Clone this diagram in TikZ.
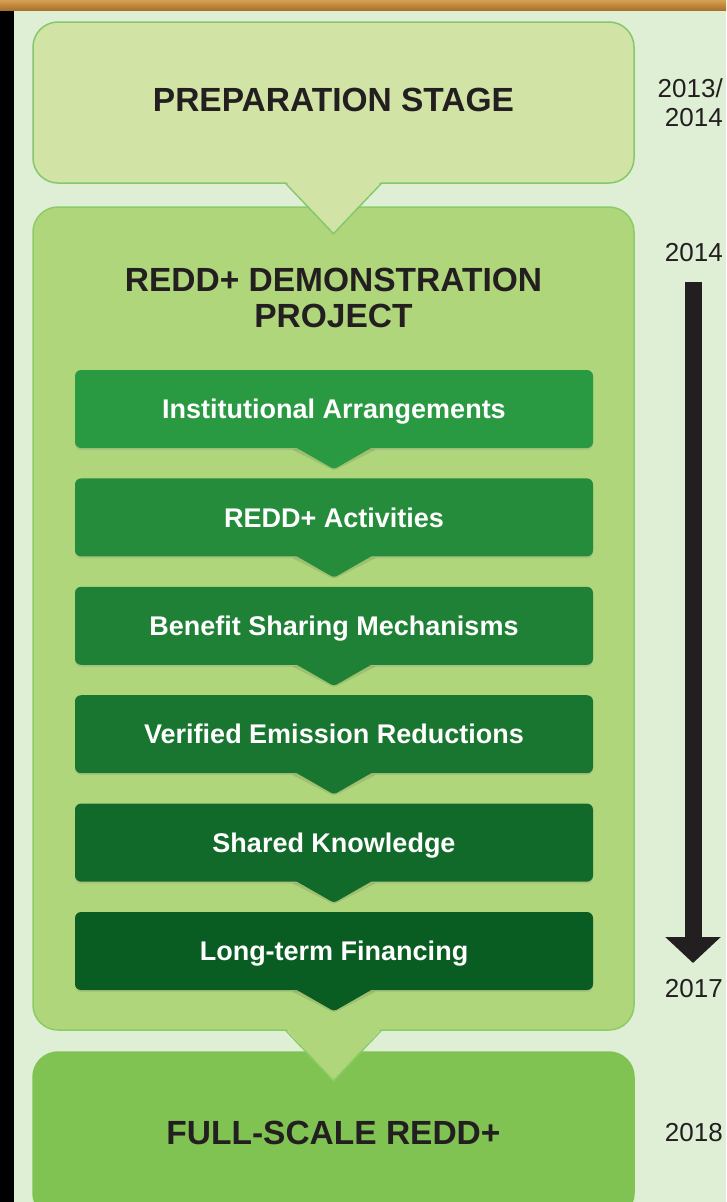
\documentclass[tikz,border=0pt]{standalone}
\usepackage{fontspec}
\setmainfont{Liberation Sans}
\usetikzlibrary{positioning}
\usetikzlibrary{arrows.meta}
\usetikzlibrary{shadows}

\definecolor{bgmint}{RGB}{223,239,214}
\definecolor{goldlight}{RGB}{214,160,82}
\definecolor{golddark}{RGB}{166,108,40}
\definecolor{prepfill}{RGB}{210,228,165}
\definecolor{prepline}{RGB}{132,199,108}
\definecolor{demofill}{RGB}{176,214,124}
\definecolor{demoline}{RGB}{140,204,100}
\definecolor{fullfill}{RGB}{128,195,82}
\definecolor{stepA}{RGB}{42,154,66}
\definecolor{stepB}{RGB}{36,140,58}
\definecolor{stepC}{RGB}{31,129,54}
\definecolor{stepD}{RGB}{25,118,48}
\definecolor{stepE}{RGB}{18,106,42}
\definecolor{stepF}{RGB}{10,93,34}
\definecolor{inkgray}{RGB}{35,31,32}

\tikzset{stagebox/.style = {rounded corners=25pt, line width=1.5pt,
                            minimum width=601pt, inner sep=0pt},
         stagetext/.style = {font=\bfseries\fontsize{33.5}{36}\selectfont,
                             text=inkgray, align=center, inner sep=0pt},
         stepbox/.style = {rounded corners=6pt, minimum width=518pt,
                           minimum height=78pt, inner sep=0pt,
                           text height=19.5pt, text depth=0pt, text=white,
                           font=\bfseries\fontsize{27}{30}\selectfont,
                           drop shadow={shadow xshift=0pt, shadow yshift=-2pt,
                                        opacity=0.2}},
         year/.style = {font=\fontsize{26}{29}\selectfont, text=inkgray,
                        align=right, anchor=east, inner sep=0pt}}

\begin{document}
\begin{tikzpicture}[x=1pt, y=-1pt]
      \useasboundingbox (0,0) rectangle (726,1202);
      \shade[top color=goldlight, bottom color=golddark] (0,0) rectangle (726,11);
      \fill[black] (0,11) rectangle (14,1202);
      \fill[bgmint] (14,11) rectangle (726,1202);

      % stages
      \node[stagebox, draw=prepline, fill=prepfill, minimum height=161pt] (prep) at (333.5,102.5) {};
      \node[stagebox, draw=demoline, fill=demofill, minimum height=823pt] (demo) at (333.5,618.5) {};
      \node[stagebox, draw=fullfill, fill=fullfill, minimum height=166pt] (full) at (333.5,1135) {};

      \node[stagetext] (prep title) at (333.5,100) {PREPARATION STAGE};
      \node[stagetext] (demo title) at (333.5,298) {REDD+ DEMONSTRATION\\PROJECT};
      \node[stagetext] (full title) at (333.5,1133) {FULL-SCALE REDD+};

      % steps of the demonstration project
      \node[stepbox, fill=stepA] (inst) at (334,409) {Institutional Arrangements};
      \node[stepbox, fill=stepB, below=30pt of inst] (acts) {REDD+ Activities};
      \node[stepbox, fill=stepC, below=30pt of acts] (bsm) {Benefit Sharing Mechanisms};
      \node[stepbox, fill=stepD, below=30pt of bsm] (ver) {Verified Emission Reductions};
      \node[stepbox, fill=stepE, below=30pt of ver] (know) {Shared Knowledge};
      \node[stepbox, fill=stepF, below=30pt of know] (fin) {Long-term Financing};

      % pointers
      \foreach \s/\f/\l in {prep/prepfill/prepline, demo/demofill/demoline} {
        \fill[\f] ([xshift=-47.5pt,yshift=2pt]\s.south) -- ([yshift=-50pt]\s.south)
                  -- ([xshift=47.5pt,yshift=2pt]\s.south) -- cycle;
        \draw[\l, line width=1.5pt, line join=round] ([xshift=-47.5pt]\s.south)
                  -- ([yshift=-50pt]\s.south) -- ([xshift=47.5pt]\s.south);
      }
      \foreach \s/\f in {inst/stepA, acts/stepB, bsm/stepC, ver/stepD, know/stepE, fin/stepF} {
        \fill[black, opacity=0.1, rounded corners=3pt] ([xshift=-43pt,yshift=-1pt]\s.south)
                  -- ([yshift=-22.5pt]\s.south) -- ([xshift=43pt,yshift=-1pt]\s.south) -- cycle;
        \fill[\f, rounded corners=3pt] ([xshift=-42pt,yshift=3pt]\s.south)
                  -- ([yshift=-21pt]\s.south) -- ([xshift=42pt,yshift=3pt]\s.south) -- cycle;
      }

      % time line
      \node[year] (y start) at (723,102.5) {2013/\\2014};
      \node[year] (y demo) at (723,253) {2014};
      \node[year] (y end) at (723,989) {2017};
      \node[year] (y full) at (723,1133) {2018};
      \coordinate (time start) at (693,282);
      \coordinate (time end) at (693,963);
      \draw[inkgray, line width=17pt, -{Triangle[width=54pt,length=26pt]}] (time start) -- (time end);
\end{tikzpicture}
\end{document}
